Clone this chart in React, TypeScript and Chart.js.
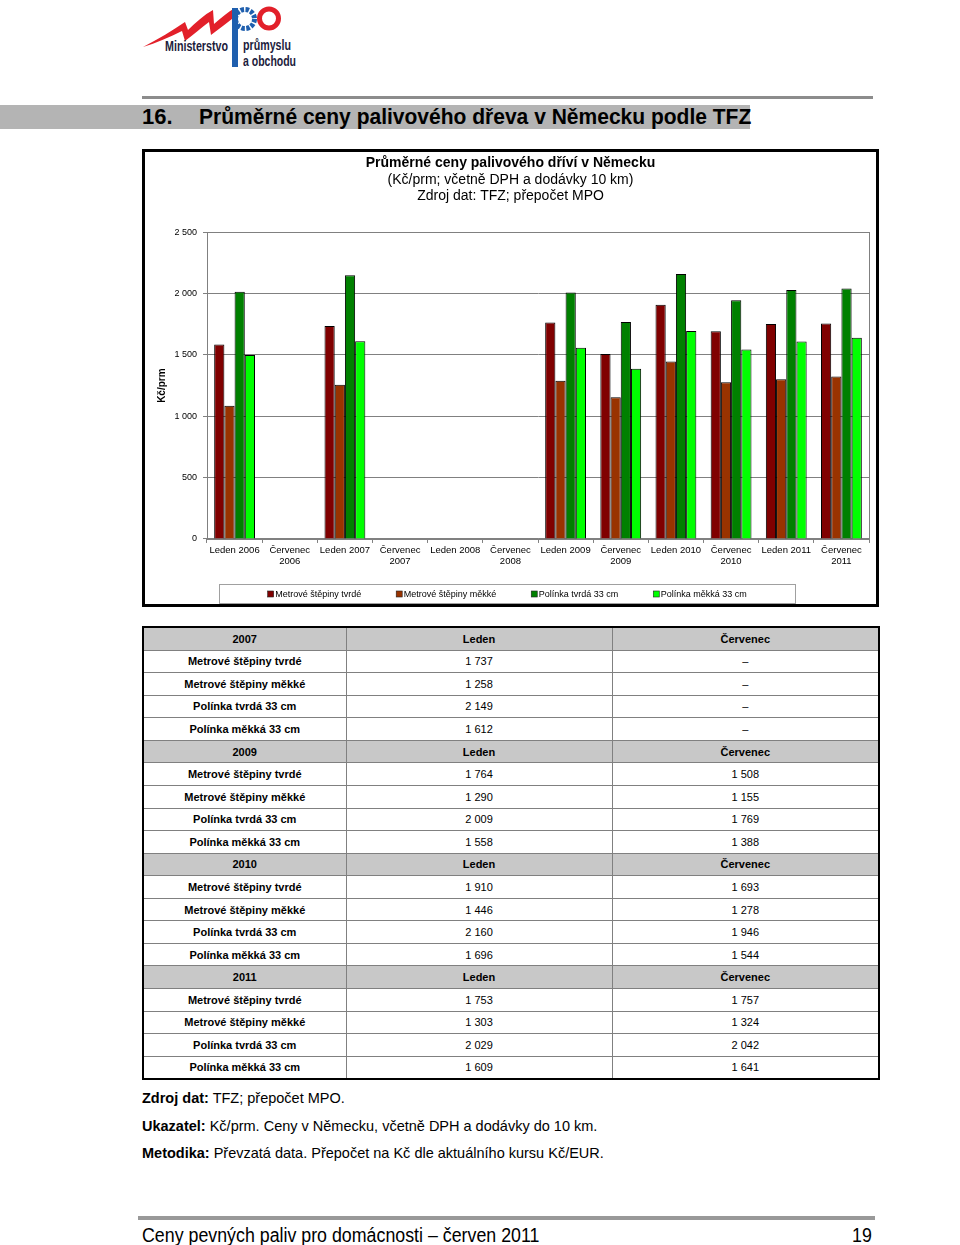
import React, { useEffect, useRef } from "react";
import { Chart, registerables } from "chart.js";

Chart.register(...registerables);

const FONT = "'Liberation Sans', Arial, sans-serif";

// ---- data ----
const categories: (string | string[])[] = [
  "Leden 2006", ["Červenec", "2006"],
  "Leden 2007", ["Červenec", "2007"],
  "Leden 2008", ["Červenec", "2008"],
  "Leden 2009", ["Červenec", "2009"],
  "Leden 2010", ["Červenec", "2010"],
  "Leden 2011", ["Červenec", "2011"],
];
const seriesNames = [
  "Metrové štěpiny tvrdé",
  "Metrové štěpiny měkké",
  "Polínka tvrdá 33 cm",
  "Polínka měkká 33 cm",
];
const metroveTvrde = [1585, null, 1737, null, null, null, 1764, 1508, 1910, 1693, 1753, 1757];
const metroveMekke = [1085, null, 1258, null, null, null, 1290, 1155, 1446, 1278, 1303, 1324];
const polinkaTvrda = [2015, null, 2149, null, null, null, 2009, 1769, 2160, 1946, 2029, 2042];
const polinkaMekka = [1500, null, 1612, null, null, null, 1558, 1388, 1696, 1544, 1609, 1641];
const seriesColors = ["#800000", "#993300", "#008000", "#00ff00"];
const yTicks = [0, 500, 1000, 1500, 2000, 2500];

const tableYears = ["2007", "2009", "2010", "2011"];
const tableLedenIndex = [2, 6, 8, 10];

const allSeries = [metroveTvrde, metroveMekke, polinkaTvrda, polinkaMekka];

const fmt = (n: number | null) =>
  n == null ? "–" : String(n).replace(/\B(?=(\d{3})+(?!\d))/g, " ");

const plotFrame = {
  id: "plotFrame",
  beforeDatasetsDraw(chart: any) {
    const { ctx, chartArea } = chart;
    ctx.save();
    ctx.strokeStyle = "#808080";
    ctx.lineWidth = 1;
    ctx.strokeRect(
      Math.round(chartArea.left) + 0.5,
      Math.round(chartArea.top) + 0.5,
      Math.round(chartArea.right - chartArea.left),
      Math.round(chartArea.bottom - chartArea.top)
    );
    ctx.restore();
  },
};

const boxedLegend = {
  id: "boxedLegend",
  afterDraw(chart: any) {
    const { ctx } = chart;
    const boxW = 576;
    const boxH = 19;
    const bx = Math.round((chart.width - boxW) / 2 - 4) + 0.5;
    const by = chart.height - boxH - 1 + 0.5;
    ctx.save();
    ctx.strokeStyle = "#a0a0a0";
    ctx.lineWidth = 1;
    ctx.strokeRect(bx, by, boxW, boxH);
    ctx.font = `9px ${FONT}`;
    const sq = 6;
    const gap = 34.5;
    const items = chart.data.datasets.map((d: any) => ({
      label: d.label,
      color: d.backgroundColor,
      w: sq + 2 + ctx.measureText(d.label).width,
    }));
    const total = items.reduce((s: number, it: any) => s + it.w, 0) + gap * (items.length - 1);
    let x = bx + boxW / 2 - total / 2;
    const cy = by + boxH / 2;
    ctx.textBaseline = "middle";
    for (const it of items) {
      ctx.fillStyle = it.color;
      ctx.fillRect(x, cy - sq / 2, sq, sq);
      ctx.strokeStyle = "#222";
      ctx.lineWidth = 0.6;
      ctx.strokeRect(x, cy - sq / 2, sq, sq);
      ctx.fillStyle = "#000";
      ctx.fillText(it.label, x + sq + 1.5, cy + 0.5);
      x += it.w + gap;
    }
    ctx.restore();
  },
};

function BarChart() {
  const ref = useRef<HTMLCanvasElement | null>(null);
  useEffect(() => {
    if (!ref.current) return;
    const chart = new Chart(ref.current, {
      type: "bar",
      data: {
        labels: categories as any,
        datasets: allSeries.map((s, i) => ({
          label: seriesNames[i],
          data: s as any,
          backgroundColor: seriesColors[i],
          borderColor: "#000",
          borderWidth: 1,
          categoryPercentage: 0.74,
          barPercentage: 1.0,
        })),
      },
      options: {
        animation: false,
        responsive: false,
        maintainAspectRatio: false,
        layout: { padding: { left: 7, right: 7, top: 3, bottom: 35 } },
        plugins: {
          legend: { display: false },
          tooltip: { enabled: false },
          title: {
            display: true,
            text: "Průměrné ceny palivového dříví v Německu",
            color: "#000",
            font: { family: FONT, size: 14, weight: "bold", lineHeight: 1.15 },
            padding: { top: 0, bottom: 1 },
          },
          subtitle: {
            display: true,
            text: ["(Kč/prm; včetně DPH a dodávky 10 km)", "Zdroj dat: TFZ; přepočet MPO"],
            color: "#000",
            font: { family: FONT, size: 14, lineHeight: 1.15 },
            padding: { top: 0, bottom: 28 },
          },
        },
        scales: {
          x: {
            offset: true,
            grid: {
              display: true,
              offset: true,
              drawOnChartArea: false,
              drawTicks: true,
              tickLength: 4,
              color: "#808080",
            },
            border: { color: "#808080" },
            ticks: {
              color: "#000",
              font: { family: FONT, size: 9.5, lineHeight: 1.16 },
              maxRotation: 0,
              autoSkip: false,
              padding: 2,
            },
          },
          y: {
            min: 0,
            max: 2500,
            afterBuildTicks: (scale: any) => {
              scale.ticks = yTicks.map((v) => ({ value: v }));
            },
            afterFit: (scale: any) => {
              scale.width = 55;
            },
            grid: { color: "#808080", tickLength: 4 },
            border: { color: "#808080" },
            ticks: {
              color: "#000",
              font: { family: FONT, size: 9 },
              padding: 6,
              callback: (v: any) => fmt(Number(v)),
            },
            title: {
              display: true,
              text: "Kč/prm",
              color: "#000",
              font: { family: FONT, size: 10, weight: "bold" },
              padding: { top: 4, bottom: 4 },
            },
          },
        },
      },
      plugins: [plotFrame, boxedLegend],
    });
    return () => chart.destroy();
  }, []);
  return <canvas ref={ref} width={731} height={452} style={{ display: "block", width: 731, height: 452 }} />;
}

function Logo() {
  const txt = { fontFamily: FONT, fontWeight: "bold" as const, fontSize: 15, fill: "#1c1c3c" };
  return (
    <svg width={320} height={75} style={{ position: "absolute", left: 0, top: 0 }}>
      <path
        d="M143,47 C158,39 172,31 185,22 L188,30 C196,22 204,15 213,10 L214,24 C221,18 228,12 235,8 L236,16 C228,22 220,28 211,35 L209,22 C201,28 194,34 185,41 L182,31 C170,37 156,43 143,47 Z"
        fill="#e2202a"
      />
      <rect x={232} y={8} width={6} height={59} fill="#1f5fae" />
      <circle cx={245} cy={19} r={9.5} fill="none" stroke="#1f5fae" strokeWidth={5} strokeDasharray="3.5 1.5" />
      <circle cx={269} cy={18.5} r={9.5} fill="none" stroke="#e2202a" strokeWidth={5} />
      <text x={165} y={51} {...txt} textLength={63} lengthAdjust="spacingAndGlyphs">Ministerstvo</text>
      <text x={243} y={50} {...txt} textLength={48} lengthAdjust="spacingAndGlyphs">průmyslu</text>
      <text x={243} y={66} {...txt} textLength={53} lengthAdjust="spacingAndGlyphs">a obchodu</text>
    </svg>
  );
}

function DataTable() {
  const rowH = 22.57;
  const tdBase: React.CSSProperties = {
    border: "1px solid #808080",
    height: rowH - 1,
    padding: 0,
    textAlign: "center",
    verticalAlign: "middle",
    fontSize: 11,
    lineHeight: "12px",
  };
  const rows: React.ReactNode[] = [];
  tableYears.forEach((yr, yi) => {
    const idx = tableLedenIndex[yi];
    rows.push(
      <tr key={yr + "h"} style={{ background: "#c8c8c8" }}>
        <td style={{ ...tdBase, fontWeight: "bold" }}>{yr}</td>
        <td style={{ ...tdBase, fontWeight: "bold" }}>Leden</td>
        <td style={{ ...tdBase, fontWeight: "bold" }}>Červenec</td>
      </tr>
    );
    allSeries.forEach((s, si) => {
      rows.push(
        <tr key={yr + si}>
          <td style={{ ...tdBase, fontWeight: "bold" }}>{seriesNames[si]}</td>
          <td style={tdBase}>{fmt(s[idx])}</td>
          <td style={tdBase}>{fmt(s[idx + 1])}</td>
        </tr>
      );
    });
  });
  return (
    <table
      style={{
        position: "absolute",
        left: 142,
        top: 626,
        width: 736,
        borderCollapse: "collapse",
        tableLayout: "fixed",
        border: "2px solid #000",
        fontFamily: FONT,
        color: "#000",
      }}
    >
      <colgroup>
        <col style={{ width: 203 }} />
        <col style={{ width: 266 }} />
        <col style={{ width: 267 }} />
      </colgroup>
      <tbody>{rows}</tbody>
    </table>
  );
}

const note: React.CSSProperties = {
  position: "absolute",
  left: 142,
  fontSize: 14.5,
  lineHeight: "18px",
  whiteSpace: "nowrap",
};

export default function App() {
  return (
    <div
      style={{
        position: "absolute",
        left: 0,
        top: 0,
        width: 960,
        height: 1245,
        overflow: "hidden",
        background: "#fff",
        fontFamily: FONT,
        color: "#000",
      }}
    >
      <Logo />
      <div style={{ position: "absolute", left: 142, top: 96, width: 731, height: 3, background: "#8c8c8c" }} />
      <div style={{ position: "absolute", left: 0, top: 105, width: 750, height: 24, background: "#b4b4b4" }} />
      <div
        style={{
          position: "absolute",
          left: 142,
          top: 104,
          height: 26,
          lineHeight: "26px",
          fontWeight: "bold",
          fontSize: 22,
          whiteSpace: "nowrap",
        }}
      >
        <span>16.</span>
        <span
          style={{
            position: "absolute",
            left: 57,
            display: "inline-block",
            transform: "scaleX(0.955)",
            transformOrigin: "left center",
          }}
        >
          Průměrné ceny palivového dřeva v Německu podle TFZ
        </span>
      </div>

      <div
        style={{
          position: "absolute",
          left: 142,
          top: 149,
          width: 731,
          height: 452,
          border: "3px solid #000",
        }}
      >
        <BarChart />
      </div>

      <DataTable />

      <div style={{ ...note, top: 1089 }}>
        <b>Zdroj dat:</b> TFZ; přepočet MPO.
      </div>
      <div style={{ ...note, top: 1117 }}>
        <b>Ukazatel:</b> Kč/prm. Ceny v Německu, včetně DPH a dodávky do 10 km.
      </div>
      <div style={{ ...note, top: 1144 }}>
        <b>Metodika:</b> Převzatá data. Přepočet na Kč dle aktuálního kursu Kč/EUR.
      </div>

      <div style={{ position: "absolute", left: 138, top: 1216, width: 737, height: 4, background: "#999" }} />
      <div
        style={{
          position: "absolute",
          left: 142,
          top: 1223,
          fontSize: 20,
          lineHeight: "24px",
          whiteSpace: "nowrap",
          transform: "scaleX(0.89)",
          transformOrigin: "left center",
        }}
      >
        Ceny pevných paliv pro domácnosti – červen 2011
      </div>
      <div
        style={{
          position: "absolute",
          left: 852,
          top: 1223,
          fontSize: 20,
          lineHeight: "24px",
          transform: "scaleX(0.89)",
          transformOrigin: "left center",
        }}
      >
        19
      </div>
    </div>
  );
}
